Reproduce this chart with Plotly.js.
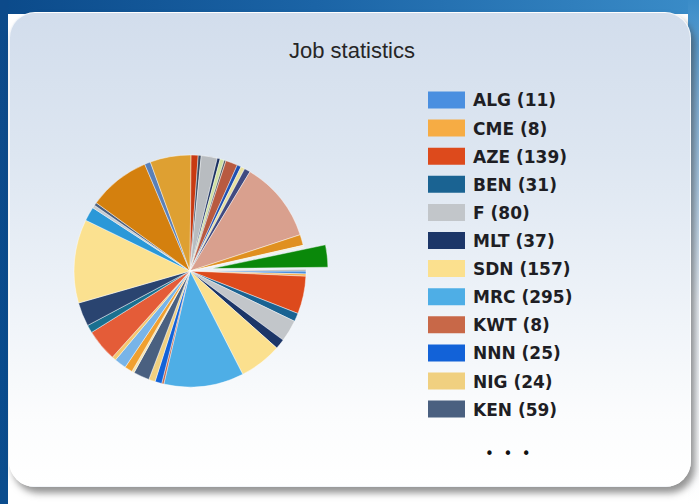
<!DOCTYPE html>
<html>
<head>
<meta charset="utf-8">
<script src="https://cdn.plot.ly/plotly-3.0.1.min.js"></script>
<style>
  html, body { margin: 0; padding: 0; width: 699px; height: 504px; overflow: hidden; background: #ffffff; }
  #bgLeft { position: absolute; left: 0; top: 0; width: 8px; height: 504px; background: linear-gradient(180deg, #0c4a8a 0%, #0b4d8e 100%); }
  #bgTop { position: absolute; left: 0; top: 0; width: 699px; height: 14px; background: linear-gradient(90deg, #0b4a8a 0%, #1b64a6 45%, #3a8cc8 100%); }
  #bgRight { position: absolute; left: 688px; top: 0; width: 11px; height: 504px; background: linear-gradient(180deg, #3a8cc8 0%, #7fb0d8 20%, #e8eef5 60%, #ffffff 100%); }
  #card { position: absolute; left: 9px; top: 12px; width: 680px; height: 473px; border-radius: 26px;
          background: linear-gradient(180deg, #d2ddec 0%, #dde6f1 30%, #edf2f8 60%, #fbfcfd 85%, #ffffff 100%);
          box-shadow: 4px 6px 7px rgba(60,60,60,0.55); border: 1px solid rgba(255,255,255,0.7); }
  #chart { position: absolute; left: 0; top: 0; width: 699px; height: 504px; }
</style>
</head>
<body>
<div id="bgTop"></div>
<div id="bgLeft"></div>
<div id="bgRight"></div>
<div id="card"></div>
<div id="chart"></div>
<script>
// ---- data ----
const titleText = "Job statistics";
const labels = ["ALG","CME","AZE","BEN","F","MLT","SDN","MRC","KWT","NNN","NIG","KEN",
  "#13","#14","#15","#16","#17","#18","#19","#20","#21","#22","#23","#24","#25","#26","#27",
  "#28","#29","#30","#31","#32","#33","#34","#35","#36","#37","#38","#39","#40","#41"];
const values = [11,8,139,31,80,37,157,295,8,25,24,59,
  9,29,44,15,118,29,88,309,52,11,11,228,22,151,26,11,
  59,11,15,7,44,15,15,22,299,40,7,82,5];
const legendCount = 12;   // entries shown in legend, rest hidden behind "..."
const pulls = labels.map((l, i) => (i === 39 ? 0.19 : 0));

// ---- styles ----
const colors = ["#4a8fe0","#f6ac44","#dd4a1c","#1a6392","#c2c6ca","#1c3668","#fbe08e","#4eaee6","#c86848","#1262d8","#f0d080","#4a6080",
  "#f4e4b0","#f0a030","#78b4e8","#f4c870","#e45c38","#1a7090","#2a4470","#fbe190","#2a98d8","#c8ccd0","#4a6080",
  "#d4800e","#5a80b8","#dea032","#c83a12","#3a4a60","#b8bcc0","#1a3060","#d0e0a0","#505a60","#b85a40","#2050b0",
  "#e8e0a0","#404a80","#d9a08e","#e09020","#f0f0e0","#0a880a","#a0a8a8"];

const W = 699, H = 504;
const px = x => x / W;
const py = y => 1 - y / H;

// pie geometry: center (190,271), radius 116 px
const cx = 190, cy = 271, r = 116, maxPull = 0.19;
const half = r * (1 + maxPull);

const pie = {
  type: "pie",
  labels: labels,
  values: values,
  sort: false,
  direction: "clockwise",
  rotation: 90,
  pull: pulls,
  textinfo: "none",
  hoverinfo: "label+value+percent",
  marker: { colors: colors, line: { color: "rgba(255,255,255,0.55)", width: 0.8 } },
  domain: { x: [px(cx - half), px(cx + half)], y: [py(cy + half), py(cy - half)] },
  showlegend: false
};

// custom legend (first legendCount entries)
const shapes = [], annotations = [];
const rowY0 = 100, rowStep = 28.1;
for (let i = 0; i < legendCount; i++) {
  const yc = rowY0 + i * rowStep;
  shapes.push({ type: "rect", xref: "paper", yref: "paper",
    x0: px(428), x1: px(465), y0: py(yc + 8.5), y1: py(yc - 8.5),
    fillcolor: colors[i], line: { width: 0 } });
  annotations.push({ xref: "paper", yref: "paper", x: px(471), y: py(yc + 0.5),
    xanchor: "left", yanchor: "middle", showarrow: false,
    text: labels[i] + " (" + values[i] + ")",
    font: { family: "DejaVu Sans", size: 17, color: "#1e1e24", weight: "bold" } });
}
annotations.push({ xref: "paper", yref: "paper", x: px(508), y: py(454),
  xanchor: "center", yanchor: "middle", showarrow: false,
  text: "•  •  •", font: { family: "DejaVu Sans", size: 15, color: "#111" } });

const layout = {
  width: W, height: H,
  margin: { l: 0, r: 0, t: 0, b: 0 },
  paper_bgcolor: "rgba(0,0,0,0)",
  plot_bgcolor: "rgba(0,0,0,0)",
  title: { text: titleText, x: px(352), y: py(50), xref: "paper", yref: "paper",
           xanchor: "center", yanchor: "middle",
           font: { family: "Liberation Sans", size: 22, color: "#262626" } },
  shapes: shapes,
  annotations: annotations,
  showlegend: false
};

Plotly.newPlot("chart", [pie], layout, { displayModeBar: false, staticPlot: true });
</script>
</body>
</html>
